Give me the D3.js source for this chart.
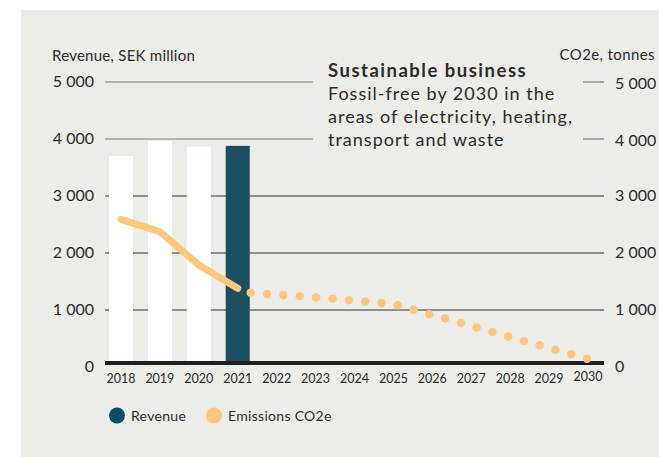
<!DOCTYPE html>
<html><head><meta charset="utf-8">
<script src="https://cdn.jsdelivr.net/npm/d3@7"></script>
<style>
html,body{margin:0;padding:0;background:#fff;}
svg{display:block;font-family:Lato,"Noto Sans",sans-serif;}
</style></head>
<body><svg id="c" width="659" height="457"></svg>
<script>
const years = ["2018","2019","2020","2021","2022","2023","2024","2025","2026","2027","2028","2029","2030"];
const revenueYears = ["2018","2019","2020","2021"];
const revenue = [3700, 3965, 3865, 3880];
const emissionsActualYears = ["2018","2019","2020","2021"];
const emissionsActual = [2590, 2375, 1790, 1380];
const emissionsTargetYears = ["2021","2022","2023","2024","2025","2026","2027","2028","2029","2030"];
const emissionsTarget = [1320, 1270, 1220, 1165, 1105, 912, 719, 526, 333, 140];
const yTicks = [0, 1000, 2000, 3000, 4000, 5000];
const fmt = v => v === 0 ? "0" : d3.format(",")(v).replace(",", " ");

const svg = d3.select("#c");
svg.append("rect").attr("x",21).attr("y",10).attr("width",659-21).attr("height",457-10).attr("fill","#ececE8");

const x = d3.scaleBand().domain(years).range([101.5, 607.5]).paddingInner(0.383).paddingOuter(0.1915);
const y = d3.scaleLinear().domain([0,5000]).range([367,82]);
const cx = d => x(d) + x.bandwidth()/2;
const base = y(0) - 4;

const gridL = 105, gridR = 604;
yTicks.filter(t => t > 0).forEach(t => {
  const col = t >= 4000 ? "#7a7a7a" : "#2e2e2e";
  const segs = t >= 4000 ? [[gridL,313],[583,gridR]] : [[gridL,gridR]];
  segs.forEach(s => svg.append("line").attr("x1",s[0]).attr("x2",s[1]).attr("y1",y(t)).attr("y2",y(t)).attr("stroke",col).attr("stroke-width",1.2));
});

svg.selectAll("rect.bar").data(revenueYears.map((yr,i)=>({yr, v:revenue[i]}))).enter().append("rect")
  .attr("class","bar")
  .attr("x", d => x(d.yr)).attr("width", x.bandwidth())
  .attr("y", d => y(d.v)).attr("height", d => base - y(d.v))
  .attr("fill", d => d.yr === "2021" ? "#1a4e60" : "#ffffff");

svg.append("line").attr("x1",gridL).attr("x2",gridR).attr("y1",base).attr("y2",base).attr("stroke","#231f20").attr("stroke-width",4);

const line = d3.line().x(d => cx(d.yr)).y(d => y(d.v));
svg.append("path").datum(emissionsActualYears.map((yr,i)=>({yr, v:emissionsActual[i]})))
  .attr("d", line).attr("fill","none").attr("stroke","#fec87c").attr("stroke-width",7)
  .attr("stroke-linecap","round").attr("stroke-linejoin","round");
svg.append("path").datum(emissionsTargetYears.map((yr,i)=>({yr, v:emissionsTarget[i]})))
  .attr("d", line).attr("fill","none").attr("stroke","#fec87c").attr("stroke-width",8.5)
  .attr("stroke-linecap","round").attr("stroke-dasharray","0 16.4").attr("stroke-dashoffset",-13);

const txt = "#2b2b2b";
svg.selectAll("text.yl").data(yTicks).enter().append("text").attr("class","yl")
  .attr("x",94).attr("y",d=>y(d)).attr("dy","0.3em").attr("text-anchor","end")
  .attr("font-size",16).attr("fill",txt).text(fmt);
svg.selectAll("text.yr").data(yTicks).enter().append("text").attr("class","yr")
  .attr("x",615).attr("y",d=>y(d) + (d >= 4000 ? 2.5 : 0)).attr("dy","0.3em").attr("text-anchor","start")
  .attr("font-size",16).attr("fill",txt).text(fmt);

svg.append("text").attr("x",52).attr("y",61).attr("font-size",15).attr("letter-spacing",0.25).attr("fill",txt).text("Revenue, SEK million");
svg.append("text").attr("x",655).attr("y",60).attr("text-anchor","end").attr("font-size",15).attr("letter-spacing",0.4).attr("fill",txt).text("CO2e, tonnes");

svg.selectAll("text.xl").data(years).enter().append("text").attr("class","xl")
  .attr("x", d => cx(d)).attr("y", d => d === "2030" ? 381 : 382.5).attr("text-anchor","middle")
  .attr("font-size",12.5).attr("fill",txt).text(d=>d);

svg.append("text").attr("x",328).attr("y",77).attr("font-size",18.5).attr("letter-spacing",1.5).attr("font-weight","bold").attr("fill",txt).text("Sustainable business");
const sub = ["Fossil-free by 2030 in the","areas of electricity, heating,","transport and waste"];
svg.selectAll("text.sub").data(sub).enter().append("text").attr("class","sub")
  .attr("x",328).attr("y",(d,i)=>100+i*23).attr("font-size",18).attr("letter-spacing",1).attr("fill",txt).text(d=>d);

const legend = [{label:"Revenue", color:"#0c4e67", x:117},{label:"Emissions CO2e", color:"#fec87c", x:214}];
legend.forEach(l => {
  svg.append("circle").attr("cx",l.x).attr("cy",415.5).attr("r",8).attr("fill",l.color);
  svg.append("text").attr("x",l.x+14).attr("y",421).attr("font-size",14).attr("letter-spacing",0.3).attr("fill",txt).text(l.label);
});
</script></body></html>
